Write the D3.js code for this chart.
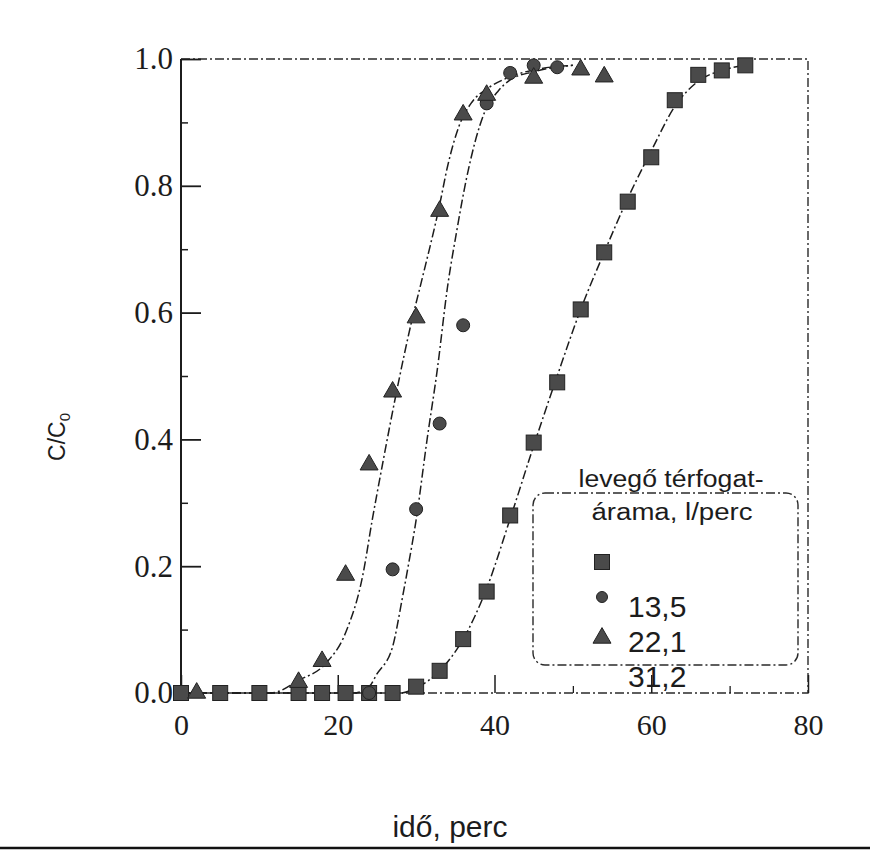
<!DOCTYPE html>
<html>
<head>
<meta charset="utf-8">
<script src="https://cdn.jsdelivr.net/npm/d3@7"></script>
<style>
  html, body { margin: 0; padding: 0; background: #fff; }
  svg { display: block; }
</style>
</head>
<body>
<svg id="chart" width="870" height="855"></svg>
<script>
// Measured points: [time (perc), C/C0]
const seriesSquare = [[0,0],[5,0],[10,0],[15,0],[18,0],[21,0],[24,0],[27,0],[30,0.01],[33,0.035],[36,0.085],[39,0.16],[42,0.28],[45,0.395],[48,0.49],[51,0.605],[54,0.695],[57,0.775],[60,0.845],[63,0.935],[66,0.975],[69,0.982],[72,0.99]];
const seriesCircle = [[24,0],[27,0.195],[30,0.29],[33,0.425],[36,0.58],[39,0.93],[42,0.978],[45,0.99],[48,0.987]];
const seriesTriangle = [[2,0],[15,0.017],[18,0.05],[21,0.186],[24,0.36],[27,0.475],[30,0.592],[33,0.76],[36,0.912],[39,0.943],[45,0.97],[51,0.983],[54,0.972]];

// Fitted breakthrough curves
const curveTriangle = [[0,0],[11.5,0],[15,0.02],[18.5,0.047],[21,0.095],[23.2,0.186],[24.4,0.273],[25.7,0.36],[27.5,0.475],[29.5,0.59],[30.7,0.65],[33,0.77],[34,0.83],[35.5,0.895],[37,0.93],[39.3,0.955],[42,0.972],[46,0.985],[50,0.99]];
const curveCircle = [[0,0],[22,0],[24,0.01],[25,0.03],[27,0.073],[28.2,0.147],[28.9,0.194],[30,0.273],[31.4,0.4],[32.7,0.51],[34,0.64],[35.2,0.73],[36.4,0.81],[38.7,0.915],[40.5,0.95],[42,0.967],[45,0.98],[50,0.99]];
const curveSquare = [[0,0],[28,0],[30,0.008],[33,0.035],[36,0.085],[39,0.165],[42,0.275],[45,0.39],[48,0.5],[51,0.605],[54,0.695],[57,0.78],[60,0.855],[63,0.925],[66,0.965],[69,0.982],[72,0.99]];

const xMajorTicks = [0,20,40,60,80];
const xMinorTicks = [10,30,50,70];
const yMajorTicks = [0,0.2,0.4,0.6,0.8,1.0];
const yMinorTicks = [0.1,0.3,0.5,0.7,0.9];

const legendTitle = ["levegő térfogat-", "árama, l/perc"];
const legendLabels = ["13,5", "22,1", "31,2"];

const svg = d3.select("#chart");

const x = d3.scaleLinear().domain([0, 80]).range([181, 808]);
const y = d3.scaleLinear().domain([0, 1]).range([693, 59]);

const ink = "#1c1c1c";
const markFill = "#4a4a4a";
const dashDot = "9,3,2,3";

// Frame: solid left axis, dash-dot top/right/bottom
svg.append("line").attr("x1", x(0)).attr("x2", x(0)).attr("y1", y(1)).attr("y2", y(0))
  .attr("stroke", ink).attr("stroke-width", 2);
svg.append("path")
  .attr("d", `M${x(0)},${y(1)} H${x(80)} V${y(0)} H${x(0)}`)
  .attr("fill", "none").attr("stroke", "#2a2a2a").attr("stroke-width", 1.4)
  .attr("stroke-dasharray", dashDot);

// Y axis ticks (drawn inward)
const yAxis = d3.axisLeft(y).tickValues(yMajorTicks).tickFormat(d3.format(".1f"))
  .tickSizeInner(-20).tickSizeOuter(0).tickPadding(8);
const gy = svg.append("g").attr("transform", `translate(${x(0)},0)`).call(yAxis);
gy.select(".domain").remove();
gy.selectAll(".tick line").attr("stroke", ink).attr("stroke-width", 1.8);
gy.selectAll(".tick text").attr("font-family", "'Liberation Serif', 'Times New Roman', serif")
  .attr("font-size", 31).attr("fill", ink);

const yMinor = d3.axisLeft(y).tickValues(yMinorTicks).tickFormat("").tickSizeInner(-7).tickSizeOuter(0);
const gym = svg.append("g").attr("transform", `translate(${x(0)},0)`).call(yMinor);
gym.select(".domain").remove();
gym.selectAll(".tick line").attr("stroke", ink).attr("stroke-width", 1.5);

// X axis ticks (drawn upward)
const xAxis = d3.axisBottom(x).tickValues(xMajorTicks).tickFormat(d3.format("d"))
  .tickSizeInner(-18).tickSizeOuter(0).tickPadding(21);
const gx = svg.append("g").attr("transform", `translate(0,${y(0)})`).call(xAxis);
gx.select(".domain").remove();
gx.selectAll(".tick line").attr("stroke", ink).attr("stroke-width", 1.5);
gx.selectAll(".tick text").attr("font-family", "'Liberation Serif', 'Times New Roman', serif")
  .attr("font-size", 30).attr("fill", ink);

const xMinor = d3.axisBottom(x).tickValues(xMinorTicks).tickFormat("").tickSizeInner(-7).tickSizeOuter(0);
const gxm = svg.append("g").attr("transform", `translate(0,${y(0)})`).call(xMinor);
gxm.select(".domain").remove();
gxm.selectAll(".tick line").attr("stroke", ink).attr("stroke-width", 1.3);

// Fitted curves
const line = d3.line().x(d => x(d[0])).y(d => y(d[1])).curve(d3.curveMonotoneX);
[curveSquare, curveCircle, curveTriangle].forEach(c => {
  svg.append("path").attr("d", line(c)).attr("fill", "none")
    .attr("stroke", ink).attr("stroke-width", 1.5).attr("stroke-dasharray", dashDot);
});

// Markers
const sq = 15;
svg.append("g").selectAll("rect").data(seriesSquare).join("rect")
  .attr("x", d => x(d[0]) - sq / 2).attr("y", d => y(d[1]) - sq / 2)
  .attr("width", sq).attr("height", sq)
  .attr("fill", markFill).attr("stroke", "#222").attr("stroke-width", 1);

svg.append("g").selectAll("circle").data(seriesCircle).join("circle")
  .attr("cx", d => x(d[0])).attr("cy", d => y(d[1])).attr("r", 6.5)
  .attr("fill", markFill).attr("stroke", "#222").attr("stroke-width", 1);

const tri = d3.symbol(d3.symbolTriangle, 140);
svg.append("g").selectAll("path").data(seriesTriangle).join("path")
  .attr("d", tri).attr("transform", d => `translate(${x(d[0])},${y(d[1])})`)
  .attr("fill", markFill).attr("stroke", "#222").attr("stroke-width", 1);

// Legend
const lg = svg.append("g");
lg.append("rect").attr("x", 533).attr("y", 493).attr("width", 265).attr("height", 172)
  .attr("rx", 12).attr("ry", 12).attr("fill", "none")
  .attr("stroke", "#2a2a2a").attr("stroke-width", 1.4).attr("stroke-dasharray", dashDot);

const sans = "'Liberation Sans', Arial, sans-serif";
lg.append("text").attr("x", 671).attr("y", 487).attr("text-anchor", "middle")
  .attr("font-family", sans).attr("font-size", 23).attr("fill", ink)
  .attr("textLength", 185).attr("lengthAdjust", "spacingAndGlyphs").text(legendTitle[0]);
lg.append("text").attr("x", 672).attr("y", 520).attr("text-anchor", "middle")
  .attr("font-family", sans).attr("font-size", 23).attr("fill", ink)
  .attr("textLength", 161).attr("lengthAdjust", "spacingAndGlyphs").text(legendTitle[1]);

lg.append("rect").attr("x", 602 - 7.5).attr("y", 562 - 7.5).attr("width", sq).attr("height", sq)
  .attr("fill", markFill).attr("stroke", "#222");
lg.append("circle").attr("cx", 602).attr("cy", 597).attr("r", 5.5)
  .attr("fill", markFill).attr("stroke", "#222");
lg.append("path").attr("d", tri).attr("transform", "translate(602,638)")
  .attr("fill", markFill).attr("stroke", "#222");

const labelY = [617, 652, 687];
legendLabels.forEach((t, i) => {
  lg.append("text").attr("x", 628).attr("y", labelY[i])
    .attr("font-family", sans).attr("font-size", 30).attr("fill", ink).text(t);
});

// Axis titles
const yt = svg.append("text").attr("transform", "translate(65,437) rotate(-90)")
  .attr("text-anchor", "middle").attr("font-family", sans).attr("font-size", 23).attr("fill", ink);
yt.append("tspan").text("C/C");
yt.append("tspan").attr("font-size", 15).attr("dy", 5).text("0");

svg.append("text").attr("x", 450).attr("y", 837).attr("text-anchor", "middle")
  .attr("font-family", sans).attr("font-size", 30).attr("fill", ink).text("idő, perc");

// Rule under the figure
svg.append("line").attr("x1", 0).attr("x2", 870).attr("y1", 848).attr("y2", 848)
  .attr("stroke", "#111").attr("stroke-width", 2.5);
</script>
</body>
</html>
